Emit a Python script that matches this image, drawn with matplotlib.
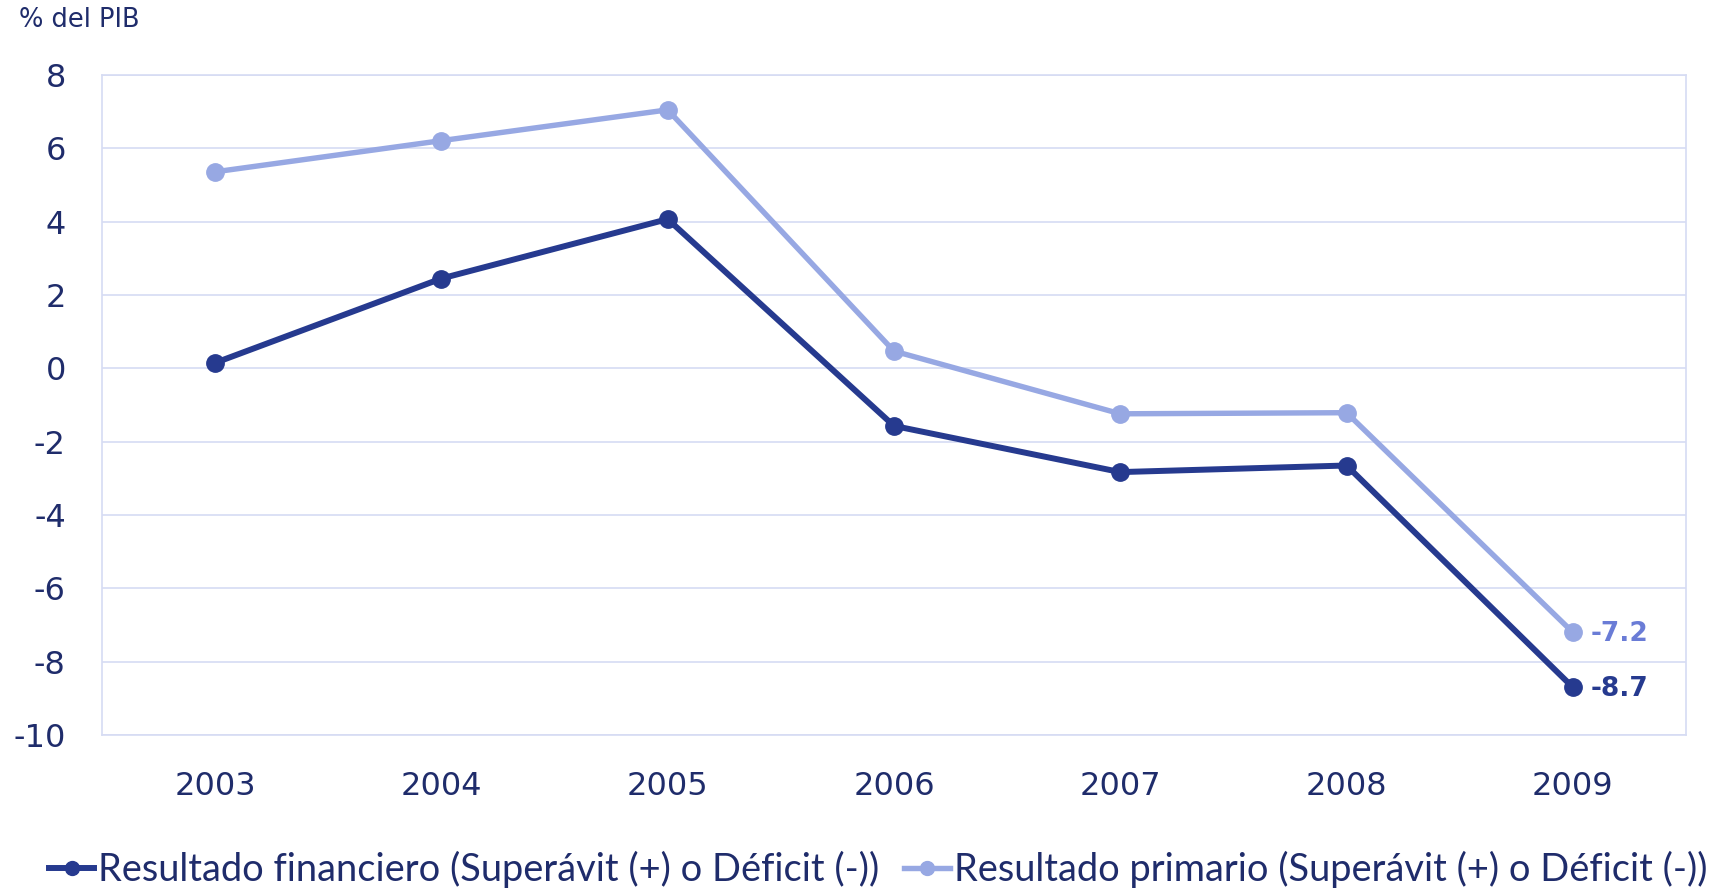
import matplotlib
matplotlib.use("Agg")
import matplotlib.pyplot as plt

plt.rcParams["axes.unicode_minus"] = False

# ─── Data ────────────────────────────────────────────────────────────────────
years = ["2003", "2004", "2005", "2006", "2007", "2008", "2009"]
financiero = [0.15, 2.45, 4.07, -1.57, -2.83, -2.65, -8.7]
primario = [5.36, 6.21, 7.05, 0.47, -1.24, -1.21, -7.2]
yticks = [8, 6, 4, 2, 0, -2, -4, -6, -8, -10]

lbl_fin = "Resultado financiero (Superávit (+) o Déficit (-))"
lbl_pri = "Resultado primario (Superávit (+) o Déficit (-))"

# ─── Colours ─────────────────────────────────────────────────────────────────
DARK = "#263A8F"
LIGHT = "#97A8E3"
LIGHT_TXT = "#6A7CD6"
TEXT = "#1F2C6B"
GRID = "#D6DCF3"

fig = plt.figure(figsize=(17.25, 8.91), dpi=100)
ax = fig.add_axes([0.0591, 0.1751, 0.9183, 0.7407])

x = list(range(len(years)))
ax.plot(x, financiero, color=DARK, lw=4.3, marker="o", ms=12.5,
        label=lbl_fin, zorder=4)
ax.plot(x, primario, color=LIGHT, lw=3.9, marker="o", ms=12.5,
        label=lbl_pri, zorder=3)

# end labels
ax.annotate(f"{primario[-1]:.1f}", (x[-1], primario[-1]), xytext=(13, -1),
            textcoords="offset points", va="center", ha="left",
            fontsize=19, fontweight="bold", color=LIGHT_TXT)
ax.annotate(f"{financiero[-1]:.1f}", (x[-1], financiero[-1]), xytext=(13, -1),
            textcoords="offset points", va="center", ha="left",
            fontsize=19, fontweight="bold", color=DARK)

ax.set_xlim(-0.5, len(years) - 0.5)
ax.set_ylim(-10, 8)
ax.set_yticks(yticks)
ax.set_xticks(x)
ax.set_xticklabels(years)
ax.yaxis.grid(True, color=GRID, lw=1.2)
ax.set_axisbelow(True)
for s in ax.spines.values():
    s.set_color(GRID)
    s.set_linewidth(1.2)
ax.tick_params(length=0, labelsize=23, labelcolor=TEXT)
ax.tick_params(axis="y", pad=26)
ax.tick_params(axis="x", pad=26)

fig.text(0.011, 0.978, "% del PIB", fontsize=18.5, color=TEXT,
         va="center", ha="left")

leg = fig.legend(loc="center", bbox_to_anchor=(0.509, 0.024), ncol=2,
                 frameon=False, handlelength=1.2, handletextpad=0.1,
                 columnspacing=0.65, markerscale=0.8,
                 prop={"family": ["Lato", "DejaVu Sans"], "size": 27.4})
for t in leg.get_texts():
    t.set_color(TEXT)

fig.savefig("out.png", dpi=100)
